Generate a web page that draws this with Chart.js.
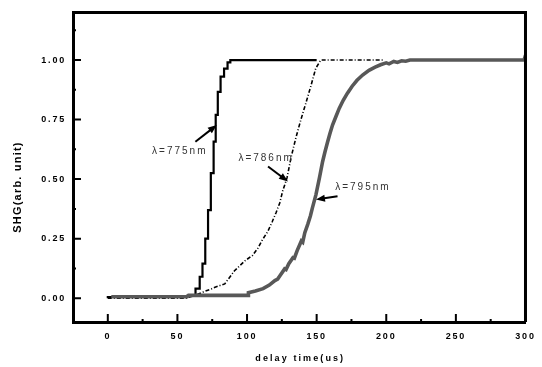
<!DOCTYPE html>
<html>
<head>
<meta charset="utf-8">
<script src="https://cdn.jsdelivr.net/npm/chart.js@4/dist/chart.umd.min.js"></script>
<style>
html,body{margin:0;padding:0;background:#fff;}
#wrap{width:542px;height:367px;}
</style>
</head>
<body>
<div id="wrap"><canvas id="c" width="542" height="367"></canvas></div>
<script>
// ---- data ----
const xTicks = [0, 50, 100, 150, 200, 250, 300];
const yTicks = [0, 0.25, 0.5, 0.75, 1.0];

const x775 = [0, 57, 63, 66, 68, 70, 72, 74, 76, 77.5, 79, 81, 83.5, 86, 88, 91, 150];
const y775 = [0, 0.005, 0.01, 0.04, 0.09, 0.145, 0.25, 0.37, 0.525, 0.657, 0.77, 0.866, 0.93, 0.964, 0.99, 1.0, 1.0];

const x786 = [0, 56, 62, 68, 74.7, 77, 84, 91, 98.5, 104, 107.8, 111, 114.9, 118, 120.9, 123.5, 125.6, 128.7, 131.6, 135.1, 138.7, 142.3, 145.8, 149.4, 153, 198];
const y786 = [0, 0, 0.01, 0.025, 0.04, 0.046, 0.06, 0.115, 0.157, 0.18, 0.21, 0.245, 0.28, 0.32, 0.36, 0.40, 0.45, 0.505, 0.59, 0.674, 0.75, 0.82, 0.89, 0.966, 1.0, 1.0];

const x795 = [2.5, 57, 58, 100.8, 101, 106, 111.5, 116, 120, 122, 124, 127, 128, 130, 133, 134, 136, 139, 140, 141.5, 143.6, 145.5, 147, 149.5, 152, 154.3, 156, 157.9, 159.5, 161.4, 164, 166.2, 169, 172, 175.5, 179, 183, 187.6, 192, 195.9, 200, 202, 205.4, 208, 211, 214, 217, 299, 300];
const y795 = [0.006, 0.006, 0.012, 0.012, 0.023, 0.03, 0.04, 0.055, 0.074, 0.08, 0.097, 0.123, 0.12, 0.145, 0.17, 0.168, 0.2, 0.24, 0.235, 0.275, 0.31, 0.345, 0.38, 0.435, 0.505, 0.574, 0.615, 0.657, 0.69, 0.727, 0.765, 0.797, 0.83, 0.86, 0.89, 0.915, 0.937, 0.957, 0.97, 0.98, 0.988, 0.984, 0.994, 0.99, 0.997, 0.995, 1.0, 1.0, 1.02];

const seriesNames = ['λ=775nm', 'λ=786nm', 'λ=795nm'];
const xTitle = 'delay time(us)';
const yTitle = 'SHG(arb. unit)';

function pts(xs, ys){ return xs.map((x,i)=>({x:x, y:ys[i]})); }

const frame = {
  id:'frame',
  beforeDraw(chart){ chart.ctx.letterSpacing = '1.8px'; },
  afterDraw(chart){
    const ctx = chart.ctx, a = chart.chartArea;
    const xs = chart.scales.x, ys = chart.scales.y;
    ctx.save();
    ctx.letterSpacing = '0px';
    ctx.strokeStyle = '#000';
    // top & right border
    ctx.lineWidth = 3;
    ctx.beginPath();
    ctx.moveTo(a.left, a.top); ctx.lineTo(a.right, a.top); ctx.lineTo(a.right, a.bottom);
    ctx.stroke();
    // major ticks inward
    ctx.lineWidth = 2;
    ctx.beginPath();
    xTicks.forEach(v=>{ const p = xs.getPixelForValue(v); ctx.moveTo(p, a.bottom); ctx.lineTo(p, a.bottom-8); });
    yTicks.forEach(v=>{ const p = ys.getPixelForValue(v); ctx.moveTo(a.left, p); ctx.lineTo(a.left+8, p); });
    ctx.stroke();
    // minor ticks
    ctx.beginPath();
    for (let v = 25; v < 300; v += 50){ const p = xs.getPixelForValue(v); ctx.moveTo(p, a.bottom); ctx.lineTo(p, a.bottom-3); }
    for (let v = 0.125; v < 1.2; v += 0.25){ const p = ys.getPixelForValue(v); ctx.moveTo(a.left, p); ctx.lineTo(a.left+3, p); }
    ctx.stroke();

    // axis titles
    ctx.fillStyle = '#000';
    ctx.font = 'bold 9px "Liberation Sans", Arial, sans-serif';
    ctx.letterSpacing = '2.1px';
    ctx.textAlign = 'center'; ctx.textBaseline = 'middle';
    ctx.fillText(xTitle, (a.left+a.right)/2 + 1, 359);
    ctx.save();
    ctx.translate(18, 187);
    ctx.rotate(-Math.PI/2);
    ctx.letterSpacing = '1.2px';
    ctx.font = 'bold 11px "Liberation Sans", Arial, sans-serif';
    ctx.fillText(yTitle, 0, 0);
    ctx.restore();

    // labels with arrows (data coordinates)
    const labels = [
      {t:seriesNames[0], x:51.7, y:0.615, ax:[62.9,0.657], ah:[78.3,0.727]},
      {t:seriesNames[1], x:113.7, y:0.586, ax:[115.1,0.553], ah:[129.4,0.49]},
      {t:seriesNames[2], x:183.2, y:0.465, ax:[165,0.428], ah:[149.5,0.414]}
    ];
    ctx.font = '10px "Liberation Sans", Arial, sans-serif';
    ctx.letterSpacing = '2px';
    labels.forEach(l=>{
      ctx.fillStyle = '#333';
      ctx.fillText(l.t, xs.getPixelForValue(l.x), ys.getPixelForValue(l.y));
      const x0 = xs.getPixelForValue(l.ax[0]), y0 = ys.getPixelForValue(l.ax[1]);
      const x1 = xs.getPixelForValue(l.ah[0]), y1 = ys.getPixelForValue(l.ah[1]);
      const ang = Math.atan2(y1-y0, x1-x0);
      ctx.strokeStyle = '#000'; ctx.fillStyle = '#000';
      ctx.lineWidth = 2;
      ctx.beginPath();
      ctx.moveTo(x0, y0);
      ctx.lineTo(x1 - 5*Math.cos(ang), y1 - 5*Math.sin(ang));
      ctx.stroke();
      ctx.beginPath();
      ctx.moveTo(x1, y1);
      ctx.lineTo(x1 - 9*Math.cos(ang) + 3.5*Math.sin(ang), y1 - 9*Math.sin(ang) - 3.5*Math.cos(ang));
      ctx.lineTo(x1 - 9*Math.cos(ang) - 3.5*Math.sin(ang), y1 - 9*Math.sin(ang) + 3.5*Math.cos(ang));
      ctx.closePath();
      ctx.fill();
    });
    ctx.restore();
  }
};

new Chart(document.getElementById('c'), {
  type: 'line',
  data: {
    datasets: [
      {label: seriesNames[2], data: pts(x795, y795), borderColor:'#585858', borderWidth:3.6, pointRadius:0, tension:0, fill:false},
      {label: seriesNames[1], data: pts(x786, y786), borderColor:'#000', borderWidth:1.6, borderDash:[4,2,1,2], pointRadius:0, tension:0, fill:false},
      {label: seriesNames[0], data: pts(x775, y775), borderColor:'#000', borderWidth:2.2, pointRadius:0, stepped:'after', fill:false}
    ]
  },
  plugins: [frame],
  options: {
    responsive: false,
    animation: false,
    events: [],
    layout: {padding: {top:10, right:13, left:0, bottom:0}},
    plugins: {legend:{display:false}, tooltip:{enabled:false}},
    scales: {
      x: {
        type:'linear', min:-25, max:300,
        afterBuildTicks: s => { s.ticks = xTicks.map(v=>({value:v})); },
        afterFit: s => { s.height = 45; },
        grid: {display:false, drawTicks:false},
        border: {display:true, width:3, color:'#000'},
        ticks: {color:'#000', padding:9, maxRotation:0, font:{family:'"Liberation Sans", Arial, sans-serif', size:9, weight:'bold'}, callback: v => String(v)}
      },
      y: {
        type:'linear', min:-0.1, max:1.2,
        afterBuildTicks: s => { s.ticks = yTicks.map(v=>({value:v})); },
        afterFit: s => { s.width = 73; },
        grid: {display:false, drawTicks:false},
        border: {display:true, width:3, color:'#000'},
        ticks: {color:'#000', padding:7, font:{family:'"Liberation Sans", Arial, sans-serif', size:9, weight:'bold'}, callback: v => Number(v).toFixed(2)}
      }
    }
  }
});
</script>
</body>
</html>
